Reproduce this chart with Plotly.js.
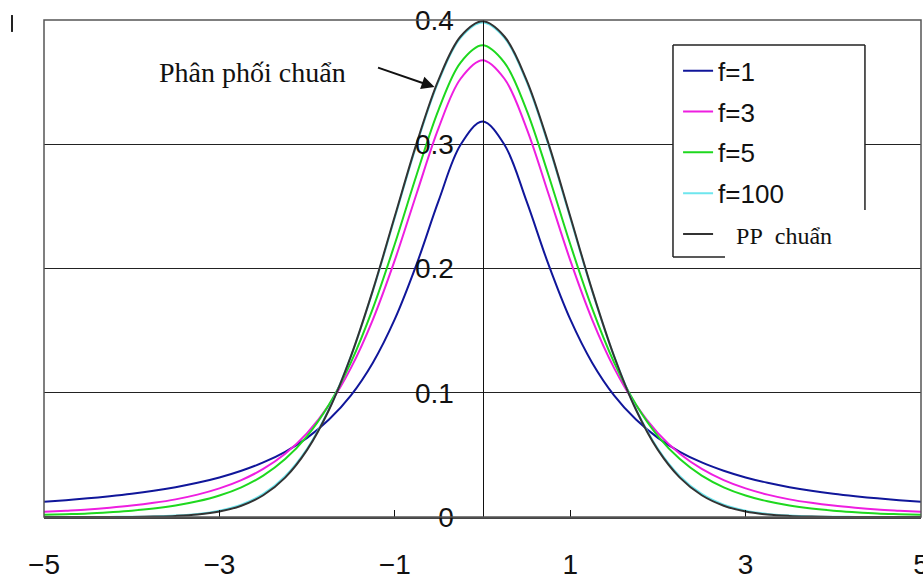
<!DOCTYPE html>
<html>
<head>
<meta charset="utf-8">
<script src="https://cdn.plot.ly/plotly-3.0.1.min.js"></script>
<style>
  html, body { margin: 0; padding: 0; background: #ffffff; }
  #chart { width: 923px; height: 580px; }
</style>
</head>
<body>
<div id="chart"></div>
<script>
// Student t densities for several degrees of freedom, with the normal density
const xs = [-5, -4.75, -4.5, -4.25, -4, -3.75, -3.5, -3.25, -3, -2.75, -2.5, -2.25, -2, -1.75, -1.5, -1.25, -1, -0.75, -0.5, -0.25,
            0, 0.25, 0.5, 0.75, 1, 1.25, 1.5, 1.75, 2, 2.25, 2.5, 2.75, 3, 3.25, 3.5, 3.75, 4, 4.25, 4.5, 4.75, 5];

const f1 = [0.0122, 0.0135, 0.0150, 0.0167, 0.0187, 0.0211, 0.0240, 0.0275, 0.0318, 0.0372, 0.0439, 0.0525, 0.0637, 0.0784, 0.0979, 0.1242, 0.1592, 0.2037, 0.2546, 0.2996,
            0.3183, 0.2996, 0.2546, 0.2037, 0.1592, 0.1242, 0.0979, 0.0784, 0.0637, 0.0525, 0.0439, 0.0372, 0.0318, 0.0275, 0.0240, 0.0211, 0.0187, 0.0167, 0.0150, 0.0135, 0.0122];

const f3 = [0.0042, 0.0051, 0.0061, 0.0075, 0.0092, 0.0114, 0.0142, 0.0180, 0.0230, 0.0297, 0.0387, 0.0509, 0.0675, 0.0900, 0.1200, 0.1589, 0.2067, 0.2606, 0.3132, 0.3527,
            0.3676, 0.3527, 0.3132, 0.2606, 0.2067, 0.1589, 0.1200, 0.0900, 0.0675, 0.0509, 0.0387, 0.0297, 0.0230, 0.0180, 0.0142, 0.0114, 0.0092, 0.0075, 0.0061, 0.0051, 0.0042];

const f5 = [0.0018, 0.0023, 0.0029, 0.0039, 0.0051, 0.0068, 0.0092, 0.0126, 0.0173, 0.0239, 0.0333, 0.0466, 0.0651, 0.0905, 0.1245, 0.1679, 0.2197, 0.2757, 0.3279, 0.3657,
            0.3796, 0.3657, 0.3279, 0.2757, 0.2197, 0.1679, 0.1245, 0.0905, 0.0651, 0.0466, 0.0333, 0.0239, 0.0173, 0.0126, 0.0092, 0.0068, 0.0051, 0.0039, 0.0029, 0.0023, 0.0018];

const f100 = [0.0000, 0.0000, 0.0000, 0.0001, 0.0002, 0.0005, 0.0012, 0.0025, 0.0051, 0.0100, 0.0186, 0.0329, 0.0549, 0.0867, 0.1294, 0.1819, 0.2408, 0.2998, 0.3508, 0.3856,
              0.3979, 0.3856, 0.3508, 0.2998, 0.2408, 0.1819, 0.1294, 0.0867, 0.0549, 0.0329, 0.0186, 0.0100, 0.0051, 0.0025, 0.0012, 0.0005, 0.0002, 0.0001, 0.0000, 0.0000, 0.0000];

const normal = [0.0000, 0.0000, 0.0000, 0.0000, 0.0001, 0.0004, 0.0009, 0.0020, 0.0044, 0.0091, 0.0175, 0.0317, 0.0540, 0.0863, 0.1295, 0.1826, 0.2420, 0.3011, 0.3521, 0.3867,
                0.3989, 0.3867, 0.3521, 0.3011, 0.2420, 0.1826, 0.1295, 0.0863, 0.0540, 0.0317, 0.0175, 0.0091, 0.0044, 0.0020, 0.0009, 0.0004, 0.0001, 0.0000, 0.0000, 0.0000, 0.0000];

const seriesNames = ['f=1', 'f=3', 'f=5', 'f=100',
  '<span style="font-family:\'Liberation Serif\', \'Times New Roman\', serif; font-size:24px">\u00a0\u00a0\u00a0PP\u00a0\u00a0chuẩn</span>'];
const seriesColors = ['#10169a', '#ee1ee0', '#1ed81e', '#6ee6ee', '#333333'];
const seriesValues = [f1, f3, f5, f100, normal];

const xTicks = [-5, -3, -1, 1, 3, 5];
const yTicks = [0, 0.1, 0.2, 0.3, 0.4];
const yTickText = ['0', '0.1', '0.2', '0.3', '0.4'];

const sans = "'Liberation Sans', Arial, sans-serif";
const serif = "'Liberation Serif', 'Times New Roman', serif";

const traces = seriesValues.map((ys, i) => ({
  type: 'scatter',
  mode: 'lines',
  x: xs,
  y: ys,
  name: seriesNames[i],
  legendgroup: 'g' + i,
  line: { color: seriesColors[i], width: 2, shape: 'spline', smoothing: 1 },
  hoverinfo: 'skip'
}));

// legend frame, in paper coordinates
const L = 0.7172, R = 0.9361, T = 0.9497, B = 0.5231;

const layout = {
  width: 923,
  height: 580,
  margin: { l: 44, r: 2, t: 20, b: 63, pad: 0 },
  paper_bgcolor: '#ffffff',
  plot_bgcolor: '#ffffff',
  showlegend: true,
  xaxis: {
    range: [-5, 5],
    tickvals: xTicks,
    ticktext: xTicks.map(v => (v < 0 ? '\u2212' + Math.abs(v) : String(v))),
    ticks: 'inside',
    ticklen: 7,
    tickwidth: 1.2,
    tickcolor: '#111',
    showgrid: false,
    zeroline: false,
    showline: true,
    linecolor: '#444',
    linewidth: 2,
    ticklabelstandoff: 21,
    ticklabeloverflow: 'allow',
    tickfont: { family: sans, size: 28, color: '#111' },
    fixedrange: true
  },
  yaxis: {
    range: [0, 0.4],
    tickvals: yTicks,
    ticktext: yTickText,
    anchor: 'free',
    position: 0.5,
    ticks: '',
    showline: true,
    linecolor: '#111',
    linewidth: 1.3,
    showgrid: true,
    gridcolor: '#222',
    gridwidth: 1.3,
    zeroline: false,
    ticklabelstandoff: 23,
    tickfont: { family: sans, size: 28, color: '#111' },
    fixedrange: true
  },
  legend: {
    x: 0.723,
    y: 0.945,
    xanchor: 'left',
    yanchor: 'top',
    bgcolor: 'rgba(0,0,0,0)',
    borderwidth: 0,
    traceorder: 'grouped',
    tracegroupgap: 4,
    font: { family: sans, size: 26, color: '#111' }
  },
  shapes: [
    // plot frame
    { type: 'rect', xref: 'paper', yref: 'paper', x0: 0, x1: 1, y0: 0, y1: 1,
      line: { color: '#555', width: 1.5 }, fillcolor: 'rgba(0,0,0,0)', layer: 'above' },
    // legend backing and border
    { type: 'rect', xref: 'paper', yref: 'paper', x0: L, x1: R, y0: B, y1: T,
      line: { width: 0 }, fillcolor: '#ffffff', layer: 'above' },
    { type: 'line', xref: 'paper', yref: 'paper', x0: L, x1: R, y0: T, y1: T, line: { color: '#222', width: 1.5 }, layer: 'above' },
    { type: 'line', xref: 'paper', yref: 'paper', x0: L, x1: L, y0: B, y1: T, line: { color: '#222', width: 1.5 }, layer: 'above' },
    { type: 'line', xref: 'paper', yref: 'paper', x0: L, x1: 0.7765, y0: B, y1: B, line: { color: '#222', width: 1.5 }, layer: 'above' },
    { type: 'line', xref: 'paper', yref: 'paper', x0: R, x1: R, y0: 0.6177, y1: T, line: { color: '#222', width: 1.5 }, layer: 'above' },
    // small mark at the top-left corner
    { type: 'line', xref: 'paper', yref: 'paper', x0: -0.0365, x1: -0.0365, y0: 0.976, y1: 1.010, line: { color: '#222', width: 2 } }
  ],
  annotations: [
    {
      x: -2.62, y: 0.358, xref: 'x', yref: 'y',
      text: 'Phân phối chuẩn',
      showarrow: false,
      font: { family: serif, size: 28, color: '#111' }
    },
    {
      x: -0.547, y: 0.346, xref: 'x', yref: 'y',
      ax: -58, ay: -20,
      text: '',
      showarrow: true,
      arrowhead: 2,
      arrowsize: 1.3,
      arrowwidth: 2,
      arrowcolor: '#111',
      standoff: 0
    }
  ]
};

Plotly.newPlot('chart', traces, layout, { displayModeBar: false, staticPlot: true });
</script>
</body>
</html>
